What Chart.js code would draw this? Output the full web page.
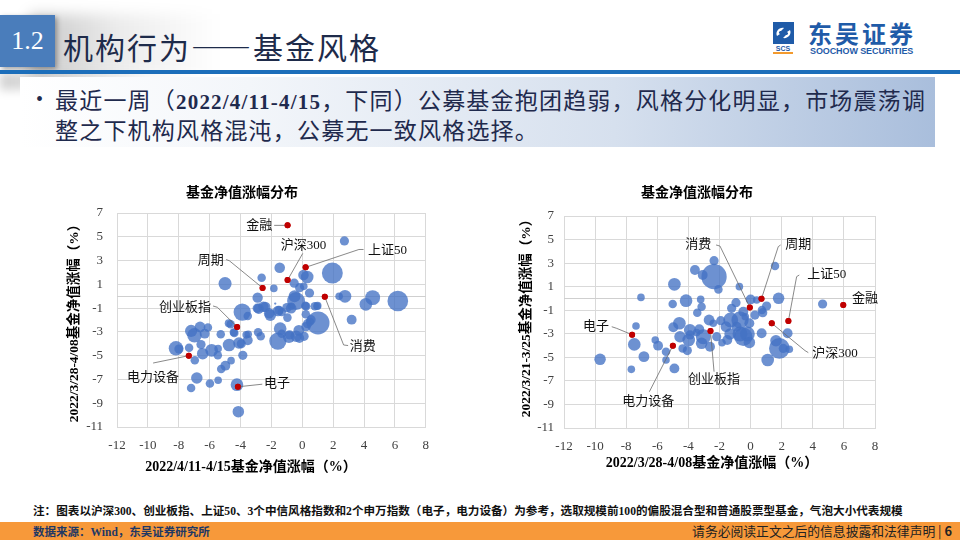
<!DOCTYPE html>
<html lang="zh-CN">
<head>
<meta charset="utf-8">
<script src="https://cdn.jsdelivr.net/npm/chart.js@4.4.1/dist/chart.umd.min.js"></script>
<style>
  html,body{margin:0;padding:0;background:#fff;}
  #slide{position:relative;width:960px;height:540px;overflow:hidden;background:#fff;font-family:"Noto Sans CJK SC",sans-serif;}
  .abs{position:absolute;}
  #shadowA{left:30px;top:14px;width:190px;height:62px;background:linear-gradient(to right,rgba(0,0,0,0.22),rgba(0,0,0,0.08) 45%,rgba(0,0,0,0));filter:blur(7px);}
  #shadowB{left:0;top:72px;width:150px;height:18px;background:linear-gradient(to right,rgba(0,0,0,0.18),rgba(0,0,0,0));filter:blur(5px);}
  #secBox{left:0;top:15px;width:55px;height:52px;background:#4A7DBB;color:#fff;font-family:"Liberation Serif",serif;font-size:26px;line-height:52px;text-align:center;box-shadow:2px 2px 5px rgba(0,0,0,0.35);}
  #title{left:63px;top:30px;font-size:30px;line-height:32px;letter-spacing:2px;color:#1E2B4A;white-space:nowrap;}
  #rule{left:0;top:70px;width:960px;height:4px;background:#1C6EBA;}
  #bulletBox{left:20px;top:77px;width:915px;height:70px;background:linear-gradient(to right,#ffffff 0%,#f3f6fa 25%,#d6e0ee 65%,#a9bedc 100%);}
  #bullet{left:36px;top:86px;font-family:"Liberation Serif",serif;font-size:20px;color:#1F2A4D;line-height:27px;}
  #btext{left:55px;top:86px;width:880px;font-size:23px;line-height:27px;letter-spacing:1.2px;color:#1F2A4D;}
  #btext .lat{font-family:"Liberation Serif",serif;font-weight:bold;font-size:21px;}
  #logoIcon{left:773px;top:22px;}
  #logoCN{left:808px;top:19px;font-size:24px;font-weight:bold;color:#1F5BA8;letter-spacing:3px;line-height:28px;white-space:nowrap;}
  #logoEN{left:810px;top:46px;font-family:"Liberation Sans",sans-serif;font-size:9px;font-weight:bold;color:#1F5BA8;letter-spacing:-0.1px;line-height:10px;white-space:nowrap;}
  #logoSCS{left:773px;top:45px;width:20px;font-family:"Liberation Sans",sans-serif;font-size:7px;font-weight:bold;color:#1F5BA8;line-height:7px;text-align:center;border-bottom:2px solid #F39A2E;}
  canvas{position:absolute;}
  #note{left:33px;top:502px;font-size:11.6px;font-weight:bold;color:#111;line-height:16px;white-space:nowrap;letter-spacing:0;}
  #note .lat{font-family:"Liberation Serif",serif;}
  #footBar{left:0;top:522px;width:960px;height:18px;background:#F7993A;}
  #source{left:33px;top:523px;font-size:11.5px;font-weight:bold;color:#1F3864;line-height:16px;white-space:nowrap;}
  #source .lat{font-family:"Liberation Serif",serif;}
  #legal{right:8px;top:522px;font-size:12.8px;color:#222;line-height:17px;white-space:nowrap;}
</style>
</head>
<body>
<div id="slide">
  <div class="abs" id="shadowA"></div>
  <div class="abs" id="shadowB"></div>
  <div class="abs" id="secBox">1.2</div>
  <div class="abs" id="title">机构行为——基金风格</div>
  <div class="abs" id="rule"></div>

  <svg class="abs" id="logoIcon" width="21" height="22" viewBox="0 0 21 22">
    <rect x="0" y="0" width="21" height="22" fill="#1F5BA8"/>
    <path d="M4 14 C2 10,6 5,11 6 L8 9 C6 9,5 11,7 12 Z" fill="#fff"/>
    <path d="M17 8 C19 12,15 17,10 16 L13 13 C15 13,16 11,14 10 Z" fill="#fff"/>
  </svg>
  <div class="abs" id="logoSCS">SCS</div>
  <div class="abs" id="logoCN">东吴证券</div>
  <div class="abs" id="logoEN">SOOCHOW SECURITIES</div>

  <div class="abs" id="bulletBox"></div>
  <div class="abs" id="bullet">•</div>
  <div class="abs" id="btext">最近一周（<span class="lat">2022/4/11-4/15</span>，下同）公募基金抱团趋弱，风格分化明显，市场震荡调整之下机构风格混沌，公募无一致风格选择。</div>

  <canvas id="leftChart" width="380" height="300" style="left:60px;top:180px;width:380px;height:300px;"></canvas>
  <canvas id="rightChart" width="380" height="300" style="left:510px;top:180px;width:380px;height:300px;"></canvas>

  <div class="abs" id="note">注：图表以沪深<span class="lat">300</span>、创业板指、上证<span class="lat">50</span>、<span class="lat">3</span>个中信风格指数和<span class="lat">2</span>个申万指数（电子，电力设备）为参考，选取规模前<span class="lat">100</span>的偏股混合型和普通股票型基金，气泡大小代表规模</div>
  <div class="abs" id="footBar"></div>
  <div class="abs" id="source">数据来源：<span class="lat">Wind</span>，东吴证券研究所</div>
  <div class="abs" id="legal">请务必阅读正文之后的信息披露和法律声明 | <b>6</b></div>
</div>

<script>
// ---------------- DATA ----------------
const xTickMin = -12, xTickMax = 8, xTickStep = 2;
const yTickMin = -11, yTickMax = 7, yTickStep = 2;

const chartTitle = '基金净值涨幅分布';
const leftXTitle = '2022/4/11-4/15基金净值涨幅（%）';
const leftYTitle = '2022/3/28-4/08基金净值涨幅（%）';
const rightXTitle = '2022/3/28-4/08基金净值涨幅（%）';
const rightYTitle = '2022/3/21-3/25基金净值涨幅（%）';

// Fund bubbles, left chart: x = 4/11-4/15 return, y = 3/28-4/08 return, size = fund scale
const leftFundX = [2.73,-1.46,-2.63,-5.00,-1.84,1.95,0.32,0.08,-0.52,-0.17,0.10,-0.40,-0.50,0.47,-2.89,2.39,2.77,4.56,4.12,6.19,3.20,1.02,-3.89,-3.53,-2.82,-2.39,-2.07,-1.50,-1.33,-0.96,-0.71,0.23,0.25,0.81,-1.43,-1.33,-1.58,-2.86,-2.69,-0.86,-0.39,-0.22,0.12,0.34,0.57,-4.64,-4.40,-5.28,-4.74,-4.10,-3.95,-3.53,-3.50,-3.85,-4.61,-4.98,-5.25,-5.45,-5.98,-6.83,-7.20,-4.14,-4.23,-8.18,-7.99,-7.33,-6.96,-7.20,-6.98,-6.62,-6.32,-6.11,-6.56,-6.45,-5.87,-5.45,-5.47,-1.75,0.96,
  -2.14,-1.57,-0.99,-0.72,-2.91,-2.52,-0.82,0.24,-3.63,-4.76,-4.44,0.20,0.99,0.50,-0.18];
const leftFundY = [4.65,2.39,1.55,1.06,0.66,1.95,1.62,1.78,1.10,0.72,0.83,-0.40,0.00,0.27,-0.12,-0.01,-0.01,-0.12,-0.68,-0.40,-1.97,-2.25,-1.33,-1.66,-1.05,-0.90,-1.60,-1.19,-1.33,-1.80,-0.85,-1.52,-0.85,-0.85,-2.73,-3.15,-3.77,-3.04,-3.37,-3.43,-3.37,-2.87,-3.37,-2.31,-1.97,-2.36,-3.09,-3.20,-4.10,-3.93,-4.00,-3.70,-3.20,-4.97,-5.42,-5.84,-6.12,-7.07,-7.35,-6.88,-7.72,-9.71,-7.44,-4.38,-4.44,-4.33,-5.39,-2.92,-3.29,-2.59,-3.15,-2.64,-4.07,-4.83,-4.55,-4.41,-4.97,-0.62,-0.85,
  -1.43,-1.24,-0.96,-1.01,-1.01,-0.88,-3.25,-2.56,-3.25,-2.27,-3.03,-0.80,-0.80,-2.14,-3.53];
const leftFundSize = [4,4.6,3.7,5.7,3.3,9.1,5.5,4.6,4,4,3.3,7.8,5.2,4,4.5,3.3,5.5,6.5,5.5,9,4.3,10,7.5,3.7,4.5,4.5,5,4,3.7,3.7,3.3,3.7,3.7,3.7,5.5,3.7,7.5,3.7,3.7,5.3,5,4.7,4,4,4,3.7,3.7,3.7,5.5,5,4,4.3,3.3,4,3.3,4.3,3.7,3.3,3.7,5,3.7,5,5.5,6.3,4,3.7,3.7,5.3,6.3,4.7,4.3,3.7,4,5,5.5,3.3,3.7,1,3.3,
  4.6,4.6,4.1,4.6,4.1,4.6,4.1,4.1,3.3,3.5,3.5,3.7,3.5,3.5,4.1];

// Fund bubbles, right chart: x = 3/28-4/08 return, y = 3/21-3/25 return
const rightFundX = [-2.35,-2.35,-3.58,-3.08,-2.07,-0.72,1.57,-4.90,-7.05,-4.15,-3.21,-5.01,-3.15,-3.43,0.00,0.39,1.80,1.03,4.63,-1.22,-0.94,0.28,0.78,0.73,-0.68,-1.28,-1.92,-1.58,-0.90,-0.08,-0.21,-0.68,-0.47,-0.08,0.71,-1.32,-1.50,-1.84,-2.61,-3.04,-3.30,-3.90,-3.98,-4.54,-4.58,-4.97,-4.07,-4.37,-4.90,-5.44,-5.44,-5.95,-6.13,-6.86,-7.48,-7.37,-7.67,-9.68,1.85,1.63,2.10,2.49,2.38,1.10,-2.67,-3.90,-2.40,-0.47,-0.34,-2.18,-3.15,-3.47];
const rightFundY = [3.21,1.85,2.41,1.99,0.77,1.00,2.75,1.20,0.09,-0.19,-0.08,-0.47,-0.70,-1.21,-0.08,-0.13,0.01,-0.64,-0.47,-0.84,-0.36,-1.41,-1.21,-0.98,-1.83,-1.83,-1.89,-2.40,-2.40,-2.11,-3.02,-3.02,-3.25,-3.73,-2.96,-3.02,-3.53,-3.76,-4.10,-3.25,-2.62,-2.68,-3.53,-3.25,-2.11,-2.45,-4.43,-4.24,-5.94,-4.52,-5.23,-4.01,-3.53,-4.94,-3.90,-2.34,-6.02,-5.17,-4.24,-3.59,-4.24,-4.32,-2.96,-5.23,-1.83,-3.10,-2.11,-1.12,-1.55,-3.25,-3.81,-2.90];
const rightFundSize = [4,11,4.3,4.3,3.7,3.3,3.7,5.5,3.3,5.5,3.3,3.7,3.7,3.7,4.3,3.3,5,4,4,4,4,4,4,3.7,7.5,6.5,4,4.7,4.3,4.3,6.5,6.5,8,5,4.3,5,4.3,3.3,4.3,6.5,4.3,5.3,5.5,5,5.5,4.3,4,3.7,4.3,3.7,3.3,4.3,3.3,4.7,5.5,3.3,3.3,5,9,5,4,3.3,4.3,5.5,4.7,4,3.3,4.3,3.3,4,5,3.3];

// Reference indices (red dots)
const indexNames   = ['金融','沪深300','上证50','周期','消费','创业板指','电力设备','电子'];
const idxWeek0411  = [-0.95,-0.95,0.22,-2.57,1.46,-4.22,-7.35,-4.17];   // 2022/4/11-4/15
const idxWeek0328  = [5.96,1.36,2.43,0.70,-0.05,-2.58,-5.00,-7.62];   // 2022/3/28-4/08
const idxWeek0321  = [-0.56,-2.11,-1.92,-0.02,-0.76,-2.76,-4.01,-3.08]; // 2022/3/21-3/25

// ---------------- LAYOUT (label placement, in data units) ----------------
const leftLabelLayout = {
  '金融':   {text:[-2.78,5.96], path:[[-1.82,5.96]]},
  '沪深300':{text:[0.08,4.29],  path:[[0.03,3.6]]},
  '上证50': {text:[5.53,3.87],  path:[[3.97,3.93],[3.67,3.93]]},
  '周期':   {text:[-5.93,3.04], path:[[-4.93,3.09],[-4.72,2.98]]},
  '消费':   {text:[3.92,-4.23], path:[[2.97,-4.15],[2.68,-4.1]]},
  '创业板指':{text:[-7.6,-0.93], path:[[-5.78,-0.82],[-5.5,-0.93]]},
  '电力设备':{text:[-9.66,-6.88],path:[[-9.66,-5.62]]},
  '电子':   {text:[-1.63,-7.38], path:[[-2.59,-7.4]]}
};
const rightLabelLayout = {
  '金融':   {text:[7.36,0.01],  path:[]},
  '沪深300':{text:[5.43,-4.66], path:[[3.71,-4.6],[3.5,-4.43]]},
  '上证50': {text:[4.89,1.99],  path:[[3.13,1.99],[2.96,1.85]]},
  '周期':   {text:[3.07,4.54],  path:[[1.93,4.54],[1.78,4.4]]},
  '消费':   {text:[-3.36,4.54], path:[[-2.22,4.54],[-1.97,4.45]]},
  '创业板指':{text:[-2.35,-6.87],path:[[-2.35,-6.22]]},
  '电力设备':{text:[-6.58,-8.77],path:[[-6.51,-7.92]]},
  '电子':   {text:[-9.94,-2.4], path:[[-8.93,-2.4],[-8.61,-2.54]]}
};

// ---------------- CHART ----------------
const SERIF = "'Liberation Serif','Noto Sans CJK SC'";
const GRID = '#D9D9D9';

function toPoints(xs, ys, rs, k) {
  return xs.map((x, i) => ({x: x, y: ys[i], r: rs === null ? 3 : rs[i] * k}));
}

function makeChart(id, cfg) {
  const canvas = document.getElementById(id);
  const W = canvas.width, H = canvas.height;
  const area = cfg.area;
  const deco = {
    id: 'deco',
    beforeDatasetsDraw(chart) {
      const {ctx, chartArea, scales:{y}} = chart;
      const y0 = Math.round(y.getPixelForValue(0)) + 0.5;
      ctx.save();
      ctx.strokeStyle = '#CFCFCF';
      ctx.lineWidth = 1;
      ctx.beginPath();
      ctx.moveTo(chartArea.left, y0);
      ctx.lineTo(chartArea.right, y0);
      ctx.stroke();
      ctx.restore();
    },
    afterDatasetsDraw(chart) {
      const {ctx, scales:{x, y}} = chart;
      ctx.save();
      indexNames.forEach((n, i) => {
        const L = cfg.labels[n];
        const px = x.getPixelForValue(cfg.idxX[i]);
        const py = y.getPixelForValue(cfg.idxY[i]);
        if (L.path.length) {
          ctx.beginPath();
          ctx.strokeStyle = '#6b6b6b';
          ctx.lineWidth = 0.8;
          L.path.forEach((p, j) => {
            const X = x.getPixelForValue(p[0]), Y = y.getPixelForValue(p[1]);
            if (j === 0) ctx.moveTo(X, Y); else ctx.lineTo(X, Y);
          });
          ctx.lineTo(px, py);
          ctx.stroke();
        }
      });
      indexNames.forEach((n, i) => {
        const px = x.getPixelForValue(cfg.idxX[i]);
        const py = y.getPixelForValue(cfg.idxY[i]);
        ctx.beginPath();
        ctx.fillStyle = '#C00000';
        ctx.arc(px, py, 3, 0, Math.PI * 2);
        ctx.fill();
      });
      ctx.fillStyle = '#111';
      ctx.textAlign = 'center';
      ctx.textBaseline = 'middle';
      ctx.font = "13px " + SERIF;
      indexNames.forEach((n) => {
        const L = cfg.labels[n];
        ctx.fillText(n, x.getPixelForValue(L.text[0]), y.getPixelForValue(L.text[1]));
      });
      ctx.fillStyle = '#000';
      ctx.font = "bold 14px " + SERIF;
      ctx.fillText(chartTitle, cfg.titlePos[0], cfg.titlePos[1]);
      ctx.fillText(cfg.xTitle, cfg.xTitlePos[0], cfg.xTitlePos[1]);
      ctx.translate(cfg.yTitlePos[0], cfg.yTitlePos[1]);
      ctx.rotate(-Math.PI / 2);
      ctx.font = "bold 13.5px " + SERIF;
      ctx.fillText(cfg.yTitle, 0, 0);
      ctx.restore();
    }
  };

  return new Chart(canvas, {
    type: 'bubble',
    data: {
      datasets: [
        {
          label: 'index',
          data: toPoints(cfg.idxX, cfg.idxY, null, 1),
          backgroundColor: '#C00000',
          borderWidth: 0,
          order: 1
        },
        {
          label: 'funds',
          data: toPoints(cfg.fx, cfg.fy, cfg.fs, cfg.sizeScale),
          backgroundColor: 'rgba(68,114,196,0.78)',
          borderWidth: 0,
          order: 2
        }
      ]
    },
    options: {
      responsive: false,
      devicePixelRatio: 1,
      animation: false,
      events: [],
      layout: {padding: {left: 0, top: area.top, right: W - area.right, bottom: 0}},
      plugins: {legend: {display: false}, tooltip: {enabled: false}, title: {display: false}},
      scales: {
        x: {
          type: 'linear', min: xTickMin, max: xTickMax,
          ticks: {stepSize: xTickStep, padding: cfg.xTickPad, color: '#404040', font: {family: SERIF, size: 13}},
          grid: {color: GRID, lineWidth: 1, drawTicks: false},
          border: {display: true, color: GRID},
          afterFit(s) { s.height = H - area.bottom; }
        },
        y: {
          type: 'linear', min: yTickMin, max: yTickMax,
          ticks: {stepSize: yTickStep, padding: cfg.yTickPad, color: '#404040', font: {family: SERIF, size: 13}},
          grid: {color: GRID, lineWidth: 1, drawTicks: false},
          border: {display: true, color: GRID},
          afterFit(s) { s.width = area.left; }
        }
      }
    },
    plugins: [deco]
  });
}

makeChart('leftChart', {
  area: {left: 57, right: 368, top: 33, bottom: 247},
  fx: leftFundX, fy: leftFundY, fs: leftFundSize, sizeScale: 1.15,
  idxX: idxWeek0411, idxY: idxWeek0328,
  labels: leftLabelLayout,
  xTitle: leftXTitle, yTitle: leftYTitle,
  titlePos: [182, 13], xTitlePos: [191, 287], yTitlePos: [15, 140],
  xTickPad: 11, yTickPad: 14
});

makeChart('rightChart', {
  area: {left: 54, right: 365, top: 36, bottom: 248},
  fx: rightFundX, fy: rightFundY, fs: rightFundSize, sizeScale: 1.15,
  idxX: idxWeek0328, idxY: idxWeek0321,
  labels: rightLabelLayout,
  xTitle: rightXTitle, yTitle: rightYTitle,
  titlePos: [187, 13], xTitlePos: [202, 283], yTitlePos: [17, 135],
  xTickPad: 11, yTickPad: 10
});
</script>
</body>
</html>
